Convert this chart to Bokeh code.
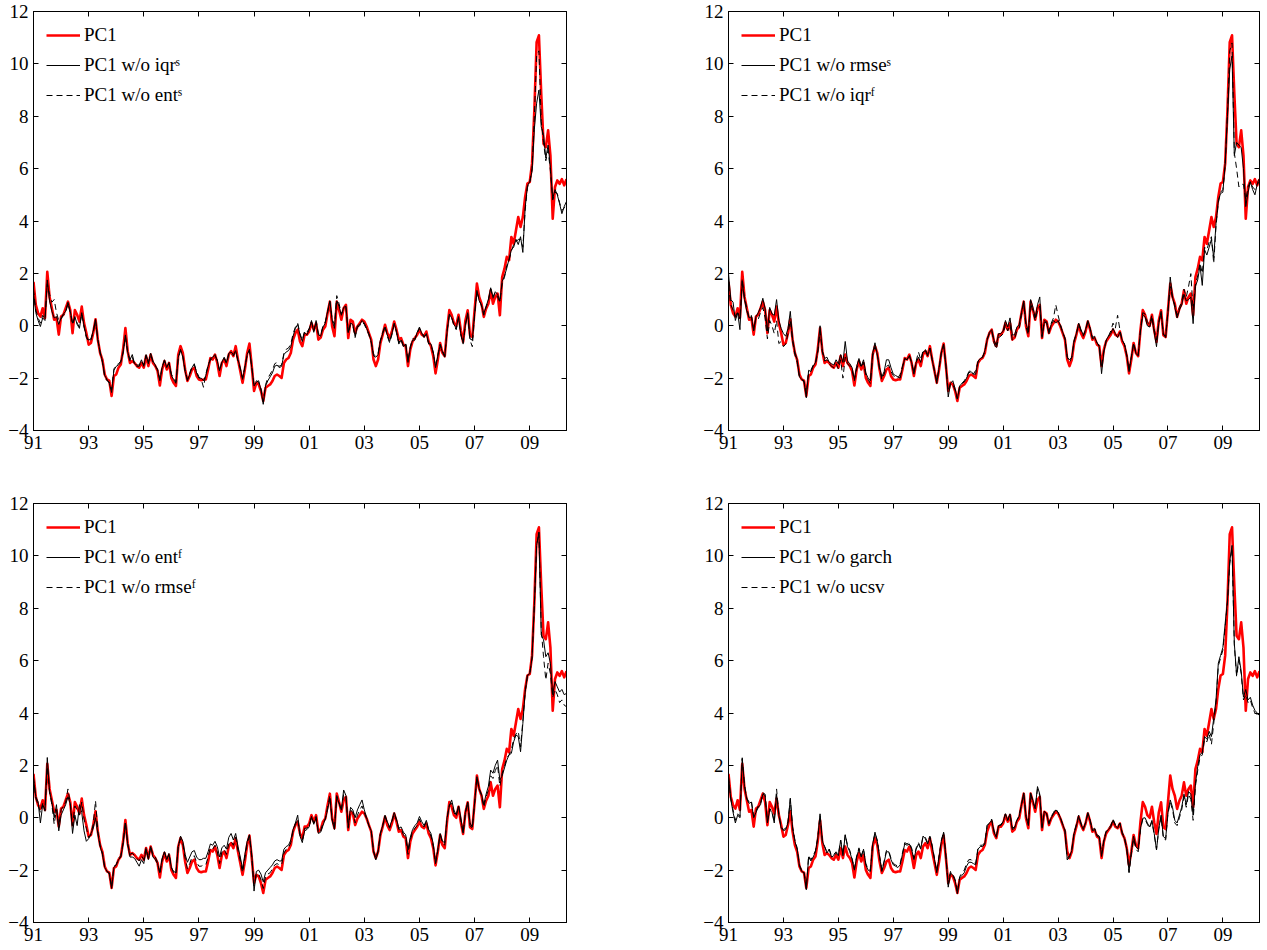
import numpy as np
from bokeh.plotting import figure
from bokeh.layouts import column, row
from bokeh.models import (Legend, LegendItem, LinearAxis, FixedTicker, Range1d,
                          CustomJSTickFormatter)
from bokeh.embed import file_html
from bokeh.resources import INLINE

# ---------------- data (monthly, 1991:01 - 2010:05) ----------------
start_year = 1991

pc1 = [
    1.68, 0.80, 0.48, 0.35, 0.67, 0.30, 2.06, 1.10, 0.67, 0.23, 0.30, -0.34,
    0.35, 0.42, 0.67, 0.92, 0.60, -0.28, 0.60, 0.42, 0.16, 0.73, 0.10, -0.28,
    -0.72, -0.66, -0.28, 0.25, -0.53, -1.04, -1.30, -1.86, -2.05, -2.10, -2.68, -1.92,
    -1.86, -1.60, -1.48, -0.90, -0.09, -0.97, -1.42, -1.35, -1.42, -1.54, -1.60, -1.42,
    -1.60, -1.16, -1.54, -1.10, -1.42, -1.54, -1.73, -2.28, -1.67, -1.35, -1.67, -1.42,
    -1.99, -2.18, -2.30, -1.10, -0.78, -1.04, -1.67, -2.11, -1.92, -1.67, -1.60, -1.92,
    -2.05, -2.08, -2.05, -2.05, -1.67, -1.23, -1.29, -1.10, -1.42, -1.92, -1.42, -1.29,
    -1.54, -1.10, -0.97, -1.16, -0.78, -1.29, -1.73, -2.18, -1.67, -1.04, -0.68, -1.54,
    -2.49, -2.18, -2.24, -2.49, -2.87, -2.37, -2.30, -2.24, -2.11, -1.92, -1.86, -1.92,
    -1.99, -1.42, -1.29, -1.23, -1.04, -0.53, -0.28, -0.15, -0.60, -0.78, -0.34, -0.34,
    -0.22, 0.10, -0.15, 0.10, -0.53, -0.45, -0.15, -0.03, 0.48, 0.92, -0.03, -0.40,
    0.92, 0.60, 0.23, 0.67, 0.80, -0.47, 0.23, 0.16, -0.28, -0.03, 0.10, 0.23,
    0.16, -0.03, -0.28, -0.53, -1.29, -1.54, -1.29, -0.66, -0.34, 0.04, -0.28, -0.47,
    -0.22, 0.16, -0.15, -0.53, -0.47, -0.72, -0.78, -1.54, -0.91, -0.60, -0.47, -0.34,
    -0.15, -0.34, -0.40, -0.22, -0.60, -0.78, -1.16, -1.82, -1.29, -0.66, -1.04, -1.16,
    -0.15, 0.60, 0.42, 0.10, 0.00, 0.42, -0.17, -0.62, 0.20, 0.59, -0.36, -0.43,
    0.59, 1.61, 1.10, 0.84, 0.34, 0.65, 0.84, 1.35, 0.84, 1.10, 1.23, 0.40,
    1.86, 2.18, 2.63, 2.50, 3.39, 3.13, 3.64, 4.15, 3.77, 4.15, 4.92, 5.43,
    5.49, 6.19, 8.22, 10.83, 11.09, 8.86, 6.95, 6.82, 7.46, 6.50, 4.09, 5.30,
    5.55, 5.42, 5.60, 5.36, 5.60,
]

wo_iqr_s = [
    1.24, 0.50, 0.20, -0.03, 0.30, 0.20, 1.75, 0.95, 0.55, 0.30, 0.35, 0.05,
    0.30, 0.45, 0.55, 0.90, 0.55, 0.10, 0.35, 0.05, -0.10, 0.50, 0.00, -0.40,
    -0.55, -0.50, -0.20, 0.25, -0.55, -1.00, -1.35, -1.90, -2.05, -2.20, -2.55, -1.70,
    -1.55, -1.50, -1.40, -1.00, -0.35, -1.00, -1.30, -1.10, -1.45, -1.50, -1.50, -1.30,
    -1.55, -1.10, -1.45, -1.05, -1.35, -1.50, -1.70, -2.10, -1.60, -1.30, -1.60, -1.40,
    -1.90, -2.05, -2.20, -1.20, -0.90, -1.20, -1.75, -2.10, -1.85, -1.60, -1.45, -1.80,
    -2.00, -2.00, -2.10, -1.90, -1.55, -1.25, -1.20, -1.10, -1.35, -1.70, -1.40, -1.20,
    -1.40, -1.05, -1.00, -1.10, -0.95, -1.30, -1.60, -2.05, -1.60, -1.10, -0.90, -1.60,
    -2.30, -2.15, -2.10, -2.45, -3.00, -2.30, -2.10, -1.95, -1.80, -1.55, -1.50, -1.60,
    -1.55, -1.10, -1.00, -0.95, -0.80, -0.40, -0.10, 0.05, -0.35, -0.60, -0.25, -0.35,
    -0.15, 0.20, -0.25, 0.15, -0.35, -0.40, -0.05, 0.10, 0.55, 0.95, 0.20, -0.10,
    0.95, 0.75, 0.40, 0.70, 0.75, -0.25, 0.10, 0.05, -0.40, 0.00, 0.05, 0.20,
    0.10, -0.10, -0.30, -0.60, -1.15, -1.20, -1.10, -0.60, -0.30, -0.05, -0.35, -0.60,
    -0.30, 0.10, -0.20, -0.70, -0.55, -0.80, -0.70, -1.40, -0.85, -0.55, -0.55, -0.25,
    -0.05, -0.30, -0.45, -0.30, -0.65, -0.70, -1.00, -1.60, -1.15, -0.75, -1.00, -1.20,
    -0.25, 0.45, 0.30, 0.05, -0.10, 0.35, -0.30, -0.65, 0.05, 0.50, -0.50, -0.55,
    0.45, 1.35, 0.95, 0.80, 0.45, 0.75, 1.00, 1.45, 1.10, 1.30, 1.20, 0.95,
    1.70, 1.90, 2.20, 2.55, 2.90, 3.00, 3.30, 3.10, 3.40, 2.80, 4.50, 5.35,
    5.50, 5.90, 7.50, 8.50, 9.00, 7.60, 7.30, 6.40, 6.90, 6.05, 4.85, 5.20,
    5.00, 4.66, 4.28, 4.55, 4.75,
]

wo_ent_s = [
    1.40, 0.60, 0.30, 0.10, 0.40, 0.25, 1.60, 1.20, 0.90, 1.00, 0.50, 0.20,
    0.25, 0.40, 0.50, 0.85, 0.50, 0.05, 0.30, 0.10, -0.05, 0.45, -0.05, -0.45,
    -0.60, -0.55, -0.25, 0.20, -0.50, -1.05, -1.40, -1.95, -2.10, -2.15, -2.45, -1.65,
    -1.50, -1.45, -1.35, -1.05, -0.40, -1.05, -1.35, -1.20, -1.50, -1.55, -1.55, -1.35,
    -1.50, -1.15, -1.40, -1.10, -1.40, -1.55, -1.65, -2.05, -1.55, -1.35, -1.55, -1.45,
    -1.85, -2.00, -2.15, -1.25, -0.95, -1.15, -1.70, -2.05, -1.80, -1.55, -1.50, -1.75,
    -1.95, -2.05, -2.35, -1.85, -1.50, -1.30, -1.25, -1.15, -1.30, -1.75, -1.35, -1.25,
    -1.45, -1.10, -1.05, -1.15, -1.00, -1.35, -1.65, -2.00, -1.55, -1.15, -0.95, -1.55,
    -2.25, -2.10, -2.15, -2.40, -2.90, -2.25, -2.00, -1.85, -1.70, -1.45, -1.40, -1.55,
    -1.50, -1.05, -0.90, -0.85, -0.70, -0.30, -0.05, 0.10, -0.30, -0.55, -0.20, -0.25,
    -0.10, 0.15, -0.20, 0.20, -0.30, -0.35, 0.00, 0.15, 0.50, 0.90, 0.25, 0.05,
    1.15, 0.85, 0.45, 0.65, 0.70, -0.30, 0.05, 0.00, -0.45, -0.05, 0.00, 0.15,
    0.05, -0.15, -0.35, -0.65, -1.10, -1.15, -1.05, -0.55, -0.25, 0.00, -0.40, -0.65,
    -0.35, 0.05, -0.25, -0.65, -0.50, -0.75, -0.65, -1.35, -0.80, -0.50, -0.50, -0.30,
    -0.10, -0.25, -0.40, -0.35, -0.70, -0.75, -1.05, -1.55, -1.10, -0.70, -0.95, -1.15,
    -0.20, 0.40, 0.35, 0.00, -0.15, 0.30, -0.35, -0.70, 0.00, 0.45, -0.55, -0.80,
    0.40, 1.30, 1.00, 0.75, 0.40, 0.70, 0.95, 1.40, 1.05, 1.25, 1.10, 0.90,
    1.60, 1.85, 2.30, 2.50, 2.85, 3.10, 3.20, 3.30, 3.30, 3.00, 4.40, 5.30,
    5.45, 6.00, 8.00, 10.30, 10.50, 7.80, 7.00, 6.30, 6.70, 5.90, 4.80, 5.10,
    5.05, 4.70, 4.40, 4.50, 4.65,
]

wo_rmse_s = [
    2.00, 1.00, 0.90, 0.20, 0.50, -0.15, 1.70, 1.00, 0.55, 0.30, 0.35, -0.20,
    0.35, 0.50, 0.70, 1.05, 0.65, -0.20, 0.70, 0.45, 0.40, 1.00, 0.20, -0.10,
    -0.30, -0.40, -0.10, 0.55, -0.50, -1.00, -1.30, -1.95, -2.05, -2.15, -2.75, -1.70,
    -1.75, -1.55, -1.40, -0.95, 0.00, -0.95, -1.25, -1.20, -1.40, -1.45, -1.50, -1.30,
    -1.45, -1.10, -1.40, -0.60, -1.35, -1.45, -1.60, -2.05, -1.55, -1.25, -1.55, -1.30,
    -1.80, -2.00, -2.10, -1.05, -0.65, -1.10, -1.60, -1.95, -1.75, -1.30, -1.30, -1.60,
    -1.85, -1.90, -1.95, -2.00, -1.60, -1.25, -1.30, -1.15, -1.40, -1.85, -1.40, -1.20,
    -1.40, -1.00, -0.95, -1.15, -0.85, -1.30, -1.75, -2.20, -1.60, -1.00, -0.70, -1.50,
    -2.72, -2.20, -2.10, -2.40, -2.80, -2.30, -2.20, -2.15, -2.00, -1.80, -1.75, -1.85,
    -1.85, -1.35, -1.25, -1.20, -0.95, -0.55, -0.25, -0.15, -0.55, -0.75, -0.30, -0.30,
    -0.20, 0.20, -0.05, 0.30, -0.35, -0.35, -0.05, 0.05, 0.50, 0.95, 0.10, -0.25,
    1.00, 0.70, 0.30, 0.80, 1.10, -0.40, 0.15, 0.10, -0.30, 0.05, 0.20, 0.10,
    0.20, 0.00, -0.25, -0.45, -1.20, -1.30, -1.20, -0.55, -0.30, 0.10, -0.15, -0.35,
    -0.15, 0.20, -0.10, -0.50, -0.45, -0.65, -0.80, -1.83, -1.00, -0.55, -0.40, -0.30,
    -0.10, -0.30, -0.45, -0.25, -0.55, -0.70, -1.10, -1.75, -1.20, -0.70, -1.05, -1.15,
    -0.20, 0.40, 0.35, 0.00, -0.05, 0.30, -0.25, -0.80, 0.10, 0.55, -0.30, -0.45,
    0.50, 1.86, 1.10, 0.70, 0.30, 0.60, 0.80, 1.20, 0.95, 1.00, 1.10, 0.08,
    1.50, 1.75, 2.30, 1.54, 2.90, 2.70, 3.00, 3.30, 2.60, 3.90, 4.79, 5.05,
    5.10, 6.20, 8.00, 9.80, 10.30, 6.50, 7.00, 6.90, 6.80, 6.00, 4.55, 5.10,
    5.50, 5.20, 5.00, 5.40, 5.50,
]

wo_iqr_f = [
    1.55, 0.80, 0.60, 0.35, 0.55, 0.25, 1.80, 1.05, 0.70, 0.30, 0.40, -0.15,
    0.30, 0.25, 0.50, 0.70, 0.30, -0.50, 0.20, 0.00, -0.30, 0.20, -0.68, -0.60,
    -0.80, -0.70, -0.30, 0.20, -0.60, -1.10, -1.40, -1.95, -2.05, -2.10, -2.60, -1.80,
    -1.70, -1.50, -1.45, -1.05, -0.20, -1.00, -1.35, -1.30, -1.45, -1.55, -1.60, -1.45,
    -1.65, -1.30, -2.00, -1.20, -1.45, -1.55, -1.70, -2.10, -1.65, -1.35, -1.60, -1.40,
    -1.90, -2.05, -2.20, -1.15, -0.80, -1.10, -1.65, -2.05, -1.85, -1.55, -1.50, -1.75,
    -1.90, -2.00, -2.00, -1.85, -1.55, -1.25, -1.30, -1.10, -1.40, -1.80, -1.35, -1.00,
    -1.30, -0.95, -0.90, -1.10, -0.85, -1.30, -1.70, -2.10, -1.65, -1.05, -0.75, -1.55,
    -2.50, -2.20, -2.25, -2.45, -2.80, -2.35, -2.20, -2.10, -1.95, -1.75, -1.70, -1.85,
    -1.70, -1.40, -1.30, -1.20, -1.00, -0.50, -0.30, -0.20, -0.65, -0.90, -0.45, -0.40,
    -0.30, 0.05, -0.20, 0.05, -0.55, -0.50, -0.20, -0.10, 0.40, 0.85, -0.05, -0.35,
    0.85, 0.55, 0.20, 0.60, 0.75, -0.45, 0.20, 0.15, -0.20, 0.10, 0.30, 0.80,
    0.40, 0.05, -0.25, -0.50, -1.20, -1.40, -1.20, -0.60, -0.30, 0.05, -0.20, -0.40,
    -0.20, 0.15, -0.10, -0.45, -0.40, -0.65, -0.75, -1.60, -0.95, -0.60, -0.40, -0.20,
    0.10, -0.10, 0.40, -0.15, -0.55, -0.70, -1.15, -1.70, -1.20, -0.65, -1.00, -1.10,
    -0.15, 0.50, 0.45, 0.15, 0.05, 0.40, -0.15, -0.55, 0.15, 0.50, -0.35, -0.40,
    0.55, 1.50, 1.05, 0.80, 0.40, 0.70, 0.90, 1.40, 1.10, 1.50, 1.99, 0.60,
    1.60, 1.90, 2.40, 2.00, 3.00, 2.90, 3.20, 3.40, 2.38, 3.80, 4.70, 5.10,
    5.20, 6.10, 8.10, 10.50, 10.80, 6.60, 6.00, 5.30, 5.40, 5.40, 4.80, 5.30,
    5.50, 5.30, 5.20, 5.40, 5.70,
]

wo_ent_f = [
    1.50, 0.80, 0.60, -0.20, 0.50, 0.30, 2.30, 1.00, 0.60, 0.00, 0.50, -0.50,
    0.10, 0.30, 0.50, 0.80, 0.55, -0.60, 0.10, -0.30, 0.50, 0.20, -0.50, -0.90,
    -0.80, -0.60, -0.40, 0.00, -0.60, -1.10, -1.40, -1.90, -2.05, -2.15, -2.70, -1.90,
    -1.80, -1.60, -1.50, -1.00, -0.20, -1.00, -1.50, -1.50, -1.55, -1.70, -1.85, -1.60,
    -1.75, -1.20, -1.60, -1.10, -1.50, -1.60, -1.75, -2.10, -1.55, -1.30, -1.60, -1.40,
    -1.90, -2.05, -2.10, -1.10, -0.70, -0.90, -1.40, -1.70, -1.50, -1.30, -1.25, -1.50,
    -1.60, -1.60, -1.55, -1.55, -1.30, -1.00, -1.05, -0.90, -1.10, -1.50, -1.15, -1.05,
    -1.20, -0.75, -0.60, -0.85, -0.60, -1.10, -1.50, -1.95, -1.40, -0.90, -0.65, -1.40,
    -2.80, -2.05, -2.00, -2.15, -2.45, -2.10, -2.00, -1.90, -1.80, -1.65, -1.60, -1.65,
    -1.65, -1.20, -1.10, -1.05, -0.85, -0.45, -0.20, 0.10, -0.70, -0.95, -0.50, -0.45,
    -0.35, 0.05, -0.25, 0.00, -0.60, -0.55, -0.30, -0.05, 0.30, 0.75, -0.10, -0.45,
    0.80, 0.55, 0.30, 1.06, 0.85, -0.35, 0.40, 0.30, 0.00, 0.30, 0.50, 0.68,
    0.30, 0.00, -0.30, -0.50, -1.30, -1.61, -1.30, -0.60, -0.30, 0.10, -0.15, -0.35,
    -0.10, 0.20, -0.05, -0.40, -0.35, -0.55, -0.65, -1.23, -0.75, -0.45, -0.30, -0.20,
    0.05, -0.15, -0.30, -0.10, -0.45, -0.60, -1.00, -1.74, -1.20, -0.60, -0.90, -0.95,
    0.00, 0.45, 0.68, 0.30, 0.10, 0.45, 0.00, -0.59, 0.20, 0.60, -0.20, -0.35,
    0.55, 1.57, 1.10, 0.90, 0.50, 0.90, 1.20, 1.82, 1.70, 2.00, 2.20, 1.44,
    1.60, 1.90, 2.20, 2.40, 2.46, 2.90, 3.16, 3.10, 2.52, 3.60, 4.80, 5.45,
    5.50, 6.10, 8.10, 10.40, 10.90, 6.98, 6.80, 6.15, 6.30, 5.90, 4.70, 5.20,
    5.00, 4.80, 4.90, 4.70, 4.75,
]

wo_rmse_f = [
    1.55, 0.75, 0.50, 0.20, 0.55, 0.25, 1.95, 1.00, 0.50, -0.25, 0.30, -0.30,
    0.30, 0.45, 0.60, 1.10, 0.55, -0.30, 0.45, 0.30, 0.10, 0.60, -0.05, -0.40,
    -0.75, -0.65, -0.25, 0.65, -0.50, -1.05, -1.35, -1.90, -2.05, -2.10, -2.65, -1.85,
    -1.80, -1.55, -1.45, -0.95, -0.15, -1.00, -1.40, -1.35, -1.45, -1.55, -1.65, -1.45,
    -1.60, -1.15, -1.55, -1.10, -1.40, -1.50, -1.70, -2.15, -1.60, -1.30, -1.60, -1.35,
    -1.90, -2.10, -2.15, -1.10, -0.80, -1.00, -1.55, -1.95, -1.75, -1.50, -1.45, -1.70,
    -1.85, -1.85, -1.80, -1.80, -1.50, -1.15, -1.20, -1.05, -1.30, -1.75, -1.30, -1.20,
    -1.40, -1.00, -0.90, -1.05, -0.75, -1.25, -1.65, -2.10, -1.55, -1.00, -0.70, -1.50,
    -2.60, -2.15, -2.15, -2.35, -2.70, -2.25, -2.15, -2.10, -1.95, -1.80, -1.75, -1.80,
    -1.80, -1.35, -1.20, -1.15, -0.95, -0.50, -0.25, -0.05, -0.65, -0.85, -0.40, -0.40,
    -0.30, 0.05, -0.20, 0.05, -0.55, -0.50, -0.20, -0.05, 0.40, 0.85, -0.05, -0.40,
    0.85, 0.60, 0.25, 0.90, 0.85, -0.40, 0.30, 0.20, -0.20, 0.10, 0.30, 0.45,
    0.20, -0.05, -0.30, -0.50, -1.25, -1.55, -1.25, -0.60, -0.30, 0.05, -0.20, -0.40,
    -0.15, 0.15, -0.10, -0.45, -0.40, -0.65, -0.75, -1.40, -0.85, -0.55, -0.40, -0.30,
    -0.05, -0.25, -0.35, -0.15, -0.50, -0.70, -1.10, -1.75, -1.25, -0.65, -0.95, -1.05,
    -0.05, 0.50, 0.55, 0.20, 0.05, 0.45, -0.10, -0.60, 0.20, 0.60, -0.30, -0.40,
    0.55, 1.55, 1.10, 0.85, 0.40, 0.80, 1.05, 1.60, 1.50, 1.80, 2.00, 1.20,
    1.70, 1.95, 2.30, 2.40, 2.60, 3.00, 3.20, 3.30, 2.70, 3.70, 4.80, 5.40,
    5.50, 6.10, 8.10, 10.40, 10.90, 7.20, 6.15, 5.26, 5.90, 5.50, 4.60, 4.90,
    4.70, 4.40, 4.50, 4.30, 4.24,
]

wo_garch = [
    1.60, 0.70, 0.20, -0.20, 0.10, 0.00, 2.29, 1.20, 0.70, 0.55, 0.60, 0.00,
    0.20, 0.40, 0.50, 0.90, 0.85, -0.20, 0.30, 0.20, -0.20, 0.90, 0.10, -0.40,
    -0.50, -0.45, -0.20, 0.75, -0.40, -0.90, -1.20, -1.85, -2.05, -2.10, -2.75, -1.50,
    -1.65, -1.50, -1.30, -0.80, 0.15, -0.90, -1.10, -1.35, -1.20, -1.50, -1.45, -1.35,
    -1.45, -0.85, -1.45, -0.65, -1.10, -1.30, -1.60, -2.00, -1.50, -1.20, -1.50, -1.20,
    -1.80, -2.00, -2.05, -1.00, -0.55, -0.90, -1.50, -2.05, -1.70, -1.30, -1.30, -1.60,
    -1.80, -1.85, -1.90, -1.80, -1.40, -1.00, -1.05, -1.00, -1.20, -1.60, -1.20, -1.00,
    -1.20, -0.70, -0.80, -1.00, -0.75, -1.10, -1.60, -2.10, -1.50, -0.90, -0.55, -1.50,
    -2.65, -2.10, -2.20, -2.40, -2.90, -2.30, -2.20, -2.10, -1.85, -1.70, -1.70, -1.75,
    -1.80, -1.20, -1.10, -1.10, -1.00, -0.30, -0.20, -0.10, -0.55, -0.75, -0.30, -0.30,
    -0.15, 0.15, -0.10, 0.15, -0.45, -0.40, -0.10, 0.05, 0.50, 0.95, 0.05, -0.30,
    0.95, 0.65, 0.35, 1.19, 0.90, -0.40, 0.25, 0.15, -0.25, 0.00, 0.15, 0.30,
    0.20, 0.00, -0.25, -0.50, -1.61, -1.50, -1.25, -0.60, -0.30, 0.05, -0.25, -0.45,
    -0.20, 0.20, -0.10, -0.50, -0.45, -0.70, -0.75, -1.48, -0.90, -0.55, -0.45, -0.35,
    -0.10, -0.30, -0.40, -0.20, -0.60, -0.80, -1.20, -2.06, -1.30, -0.70, -1.10, -1.20,
    -0.40, -0.02, 0.00, -0.20, -0.35, -0.10, -0.60, -1.23, -0.40, 0.10, -0.72, -0.80,
    0.20, 0.68, 0.40, -0.10, -0.20, 0.10, 0.40, 0.90, 0.50, 1.00, 0.90, 0.10,
    1.30, 1.95, 2.40, 2.50, 3.10, 3.00, 3.30, 3.10, 3.80, 4.50, 5.90, 6.20,
    6.50, 7.42, 8.30, 9.80, 10.40, 6.66, 5.45, 6.15, 5.60, 4.60, 4.90, 4.50,
    4.60, 4.30, 4.10, 4.00, 3.90,
]

wo_ucsv = [
    1.55, 0.75, 0.30, -0.10, 0.15, 0.05, 2.25, 1.25, 0.75, 0.60, 0.65, 0.05,
    0.25, 0.45, 0.55, 0.95, 0.90, -0.15, 0.35, 0.25, -0.15, 1.10, 0.15, -0.35,
    -0.45, -0.40, -0.15, 0.70, -0.35, -0.85, -1.15, -1.80, -2.00, -2.05, -2.70, -1.45,
    -1.60, -1.45, -1.25, -0.75, 0.10, -0.85, -1.10, -1.30, -1.20, -1.45, -1.40, -1.30,
    -1.40, -0.85, -1.40, -0.65, -1.05, -1.25, -1.55, -1.95, -1.45, -1.15, -1.45, -1.20,
    -1.75, -1.95, -2.00, -1.00, -0.60, -0.85, -1.45, -2.00, -1.65, -1.25, -1.25, -1.55,
    -1.75, -1.80, -1.85, -1.75, -1.35, -0.95, -1.00, -0.95, -1.15, -1.55, -1.15, -0.95,
    -1.15, -0.70, -0.75, -0.95, -0.70, -1.05, -1.55, -2.05, -1.45, -0.85, -0.55, -1.45,
    -2.55, -2.05, -2.15, -2.35, -2.85, -2.25, -2.10, -2.00, -1.75, -1.60, -1.60, -1.70,
    -1.75, -1.15, -1.05, -1.05, -0.95, -0.30, -0.20, -0.05, -0.50, -0.70, -0.30, -0.25,
    -0.15, 0.15, -0.10, 0.15, -0.40, -0.35, -0.10, 0.10, 0.50, 0.90, 0.05, -0.25,
    0.90, 0.60, 0.35, 1.10, 0.85, -0.35, 0.25, 0.15, -0.20, 0.05, 0.20, 0.35,
    0.20, 0.00, -0.25, -0.45, -1.55, -1.45, -1.20, -0.55, -0.25, 0.10, -0.20, -0.40,
    -0.20, 0.15, -0.10, -0.45, -0.40, -0.65, -0.70, -1.40, -0.85, -0.50, -0.40, -0.30,
    -0.05, -0.25, -0.35, -0.20, -0.55, -0.75, -1.15, -2.10, -1.40, -0.80, -1.20, -1.30,
    -0.45, -0.05, -0.05, -0.25, -0.40, -0.15, -0.65, -1.20, -0.45, 0.05, -0.80, -0.85,
    0.15, 0.60, 0.30, -0.20, -0.30, 0.00, 0.30, 0.80, 0.40, 0.90, 0.70, -0.10,
    1.20, 1.80, 2.30, 2.40, 3.00, 2.90, 3.20, 2.80, 3.60, 4.40, 5.80, 6.10,
    6.40, 7.30, 8.20, 9.70, 10.30, 6.60, 5.40, 6.00, 5.50, 4.50, 4.70, 4.40,
    4.50, 4.20, 4.00, 3.95, 3.85,
]

x_ticks = [1991, 1993, 1995, 1997, 1999, 2001, 2003, 2005, 2007, 2009]
x_tick_labels = ["91", "93", "95", "97", "99", "01", "03", "05", "07", "09"]
y_ticks = [-4, -2, 0, 2, 4, 6, 8, 10, 12]
y_tick_labels = ["\u22124", "\u22122", "0", "2", "4", "6", "8", "10", "12"]

panels = [
    (wo_iqr_s, "PC1 w/o iqr\u02e2", wo_ent_s, "PC1 w/o ent\u02e2"),
    (wo_rmse_s, "PC1 w/o rmse\u02e2", wo_iqr_f, "PC1 w/o iqr\u1da0"),
    (wo_ent_f, "PC1 w/o ent\u1da0", wo_rmse_f, "PC1 w/o rmse\u1da0"),
    (wo_garch, "PC1 w/o garch", wo_ucsv, "PC1 w/o ucsv"),
]

for s in [pc1] + [p[0] for p in panels] + [p[2] for p in panels]:
    assert len(s) == len(pc1), (len(s), len(pc1))

x = start_year + np.arange(len(pc1)) / 12.0

FONT = "'Liberation Serif', 'DejaVu Serif', serif"
FSIZE = "19px"


def style_axis(ax, ticks, labels, show_labels):
    ax.ticker = FixedTicker(ticks=ticks)
    ax.axis_line_color = "black"
    ax.axis_line_width = 1
    ax.major_tick_line_color = "black"
    ax.major_tick_in = 5
    ax.major_tick_out = 0
    ax.minor_tick_line_color = None
    if show_labels:
        ax.major_label_overrides = {t: l for t, l in zip(ticks, labels)}
        ax.major_label_text_font = FONT
        ax.major_label_text_font_size = FSIZE
        ax.major_label_text_color = "black"
        ax.major_label_standoff = 5
    else:
        ax.formatter = CustomJSTickFormatter(code="return ''")
        ax.major_label_text_font_size = "0px"
        ax.major_label_standoff = 0


def make_panel(solid, solid_label, dashed, dashed_label, width, height,
               bl, br, bt, bb):
    p = figure(width=width, height=height, output_backend="svg",
               toolbar_location=None, tools="",
               x_range=Range1d(x[0], x[-1]), y_range=Range1d(-4, 12),
               min_border_left=bl, min_border_right=br,
               min_border_top=bt, min_border_bottom=bb)
    p.xgrid.visible = False
    p.ygrid.visible = False
    p.outline_line_color = "black"
    p.background_fill_color = "white"
    p.border_fill_color = "white"
    style_axis(p.xaxis[0], x_ticks, x_tick_labels, True)
    style_axis(p.yaxis[0], y_ticks, y_tick_labels, True)
    top = LinearAxis()
    right = LinearAxis()
    style_axis(top, x_ticks, x_tick_labels, False)
    style_axis(right, y_ticks, y_tick_labels, False)
    p.add_layout(top, "above")
    p.add_layout(right, "right")

    r_pc = p.line(x, pc1, line_color="#ff0000", line_width=2.6, line_join="round")
    r_s = p.line(x, solid, line_color="black", line_width=1)
    r_d = p.line(x, dashed, line_color="black", line_width=1, line_dash="6 4")

    legend = Legend(items=[LegendItem(label="PC1", renderers=[r_pc]),
                           LegendItem(label=solid_label, renderers=[r_s]),
                           LegendItem(label=dashed_label, renderers=[r_d])],
                    location="top_left", margin=13, padding=0,
                    spacing=8, label_height=22, glyph_height=22,
                    glyph_width=34, label_standoff=4,
                    border_line_color=None, background_fill_alpha=0.0,
                    label_text_font=FONT, label_text_font_size=FSIZE,
                    label_text_color="black")
    p.add_layout(legend)
    return p


W_LEFT, W_RIGHT = 586, 681
H_TOP, H_BOT = 470, 480

p1 = make_panel(*panels[0], W_LEFT, H_TOP, 33, 20, 11, 40)
p2 = make_panel(*panels[1], W_RIGHT, H_TOP, 142, 8, 11, 40)
p3 = make_panel(*panels[2], W_LEFT, H_BOT, 33, 20, 33, 28)
p4 = make_panel(*panels[3], W_RIGHT, H_BOT, 142, 8, 33, 28)

layout = column(row(p1, p2), row(p3, p4))

with open("out.html", "w") as f:
    f.write(file_html(layout, INLINE))
